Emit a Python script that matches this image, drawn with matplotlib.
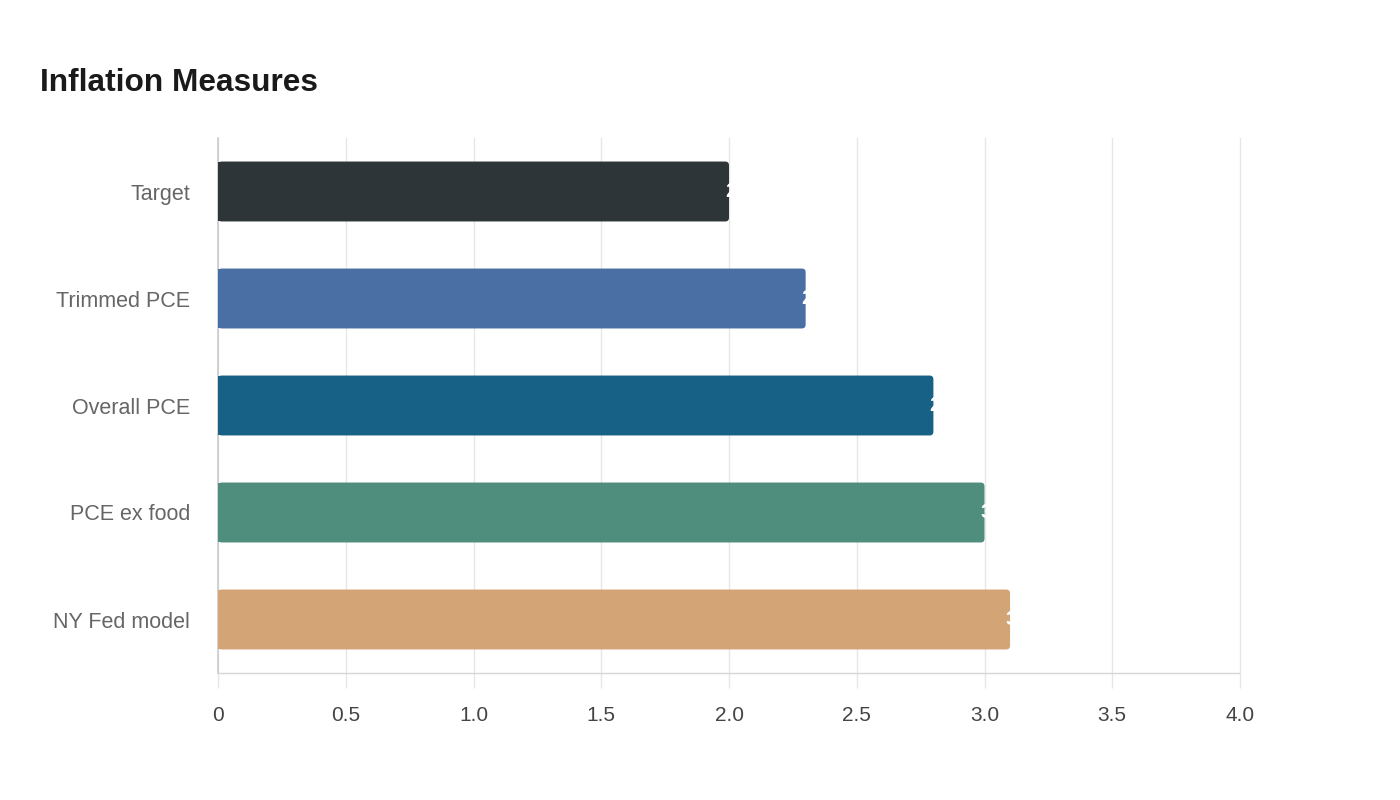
import matplotlib.pyplot as plt
from matplotlib.patches import FancyBboxPatch

plt.rcParams['font.family'] = ['Liberation Sans', 'DejaVu Sans']

# chart data
categories = ["Target", "Trimmed PCE", "Overall PCE", "PCE ex food", "NY Fed model"]
values = [2.0, 2.3, 2.8, 3.0, 3.1]
value_labels = ["2", "2.3", "2.8", "3", "3.1"]
colors = ["#2d3538", "#4a6fa5", "#186186", "#4f8d7c", "#d3a475"]
x_ticks = [0, 0.5, 1.0, 1.5, 2.0, 2.5, 3.0, 3.5, 4.0]
x_tick_labels = ["0", "0.5", "1.0", "1.5", "2.0", "2.5", "3.0", "3.5", "4.0"]

fig = plt.figure(figsize=(14, 8), dpi=100)
ax = fig.add_axes([218 / 1400, 1 - 673 / 800, (1240 - 218) / 1400, (673 - 138) / 800])

ypos = list(range(len(categories)))
bar_h = 0.56
rnd = 0.015  # corner radius in x units
aspect = (4.0 / 1022) ** -1 / 107  # x units per px over y units per px

# square left part from barh, rounded right end as a fancy patch
ax.barh(ypos, [v / 2 for v in values], height=bar_h, color=colors, zorder=3)
for y, v, c in zip(ypos, values, colors):
    p = FancyBboxPatch((0, y - bar_h / 2), v, bar_h,
                       boxstyle=f"round,pad=0,rounding_size={rnd}",
                       mutation_aspect=aspect, facecolor=c, edgecolor='none', zorder=3)
    ax.add_patch(p)

for y, v, lab in zip(ypos, values, value_labels):
    ax.annotate(lab, (v, y), xytext=(-3, 0), textcoords='offset points',
                ha='left', va='center', color='white', fontsize=15,
                fontweight='bold', zorder=4, annotation_clip=False)

ax.set_xlim(0, 4.0)
ax.set_ylim(len(categories) - 0.5, -0.5)
ax.set_yticks(ypos)
ax.set_yticklabels(categories)
ax.set_xticks(x_ticks)
ax.set_xticklabels(x_tick_labels)

ax.grid(axis='x', color='#e6e6e6', linewidth=1, zorder=0)
ax.set_axisbelow(True)
for gl in ax.get_xgridlines():
    gl.set_clip_on(False)
ax.tick_params(axis='y', length=0, pad=20, labelsize=15.5, labelcolor='#666666')
ax.tick_params(axis='x', length=11, width=1, color='#e6e6e6', pad=13,
               labelsize=15, labelcolor='#444444')

for s in ['top', 'right']:
    ax.spines[s].set_visible(False)
ax.spines['left'].set_color('#cccccc')
ax.spines['left'].set_linewidth(1.2)
ax.spines['bottom'].set_color('#d6d6d6')
ax.spines['bottom'].set_linestyle((0, (1, 1)))
ax.spines['bottom'].set_linewidth(1)

fig.text(40 / 1400, 1 - 91 / 800, "Inflation Measures", fontsize=22.8,
         fontweight='bold', color='#1a1a1a', va='baseline', ha='left')

fig.savefig("out.png", dpi=100, facecolor='white')
